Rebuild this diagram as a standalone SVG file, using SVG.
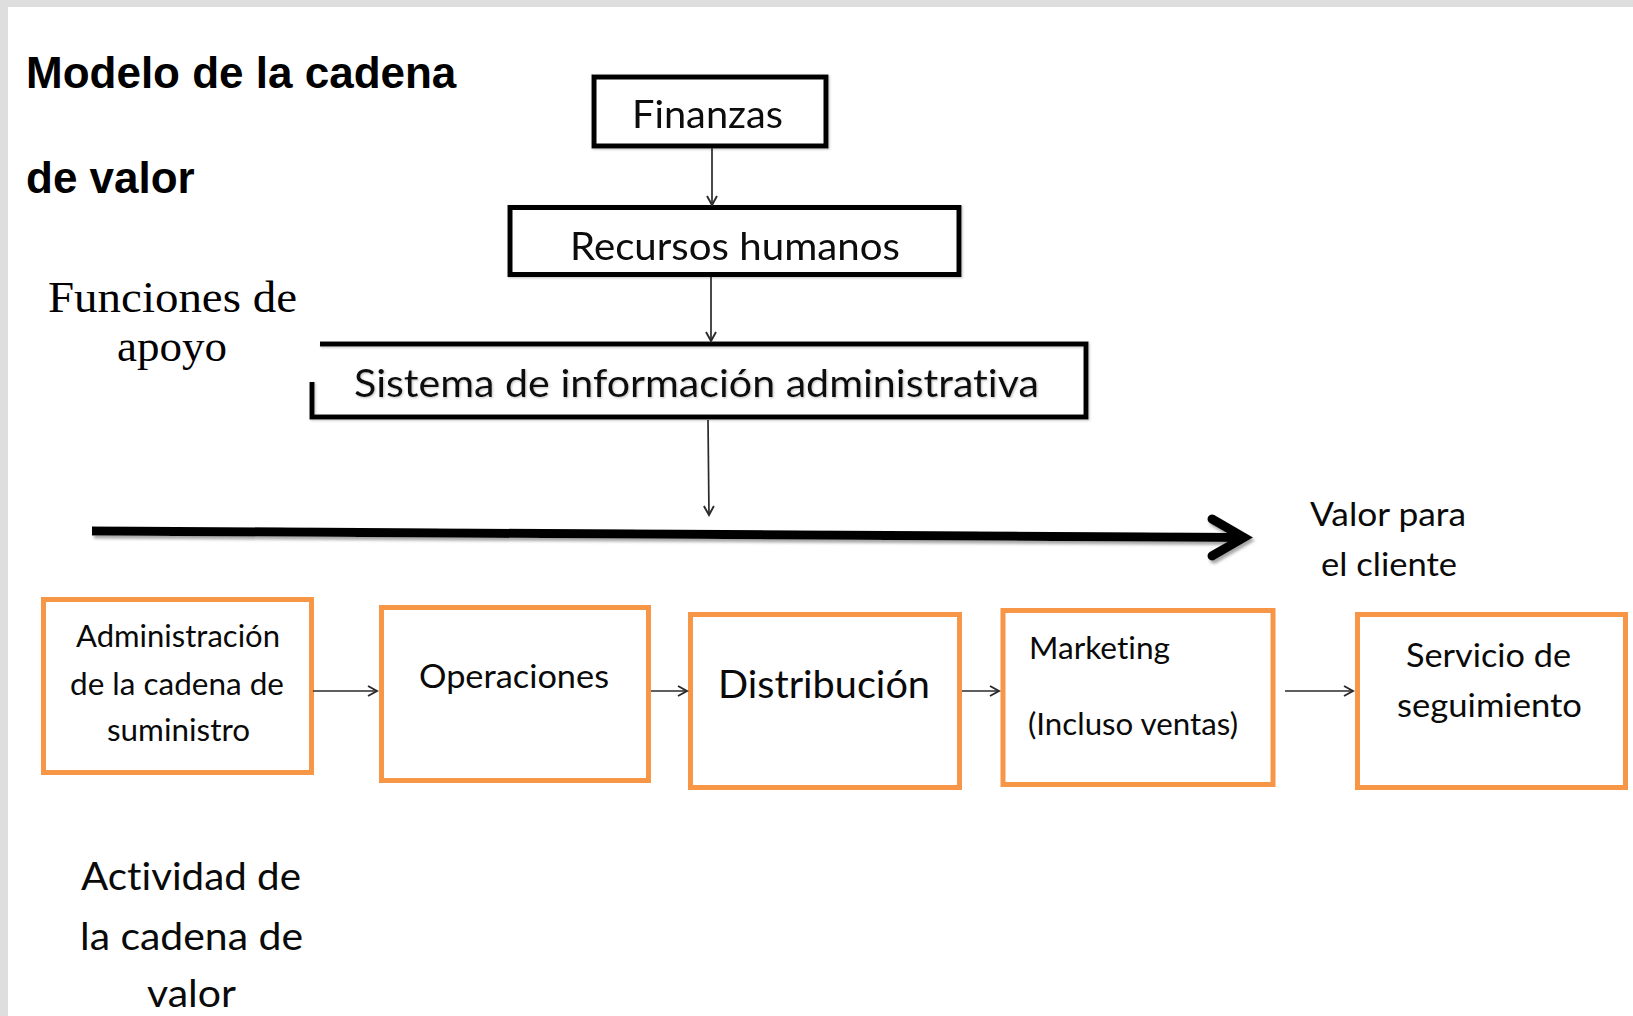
<svg xmlns="http://www.w3.org/2000/svg" width="1633" height="1016" viewBox="0 0 1633 1016">
  <defs>
    <style>
      .title { font-family: "Liberation Sans", Arial, sans-serif; font-weight: bold; font-size: 44px; fill: #000; }
      .serif { font-family: "Liberation Serif", "Times New Roman", serif; font-size: 45px; fill: #000; }
      .cal { font-family: Lato, "Open Sans", sans-serif; fill: #0a0a0a; font-variant-ligatures: none; font-feature-settings: "liga" 0, "clig" 0; }
      .bbox { fill: #fff; stroke: #000; stroke-width: 5; }
      .obox { fill: #fff; stroke: #F79646; stroke-width: 5; }
      .conn { fill: none; stroke: #2a2a2a; stroke-width: 1.7; }
    </style>
    <marker id="arr" markerUnits="userSpaceOnUse" markerWidth="14" markerHeight="14" refX="10" refY="6" orient="auto">
      <path d="M1,1 L10,6 L1,11" fill="none" stroke="#2a2a2a" stroke-width="1.9"/>
    </marker>
    <filter id="shadow" x="-5%" y="-50%" width="110%" height="200%">
      <feDropShadow dx="2" dy="3" stdDeviation="1.5" flood-color="#808080" flood-opacity="0.7"/>
    </filter>
    <filter id="bshadow" x="-5%" y="-10%" width="110%" height="130%">
      <feDropShadow dx="1" dy="1" stdDeviation="1" flood-color="#808080" flood-opacity="0.5"/>
    </filter>
  </defs>

  <!-- background -->
  <rect x="0" y="0" width="1633" height="1016" fill="#ffffff"/>
  <rect x="0" y="0" width="1633" height="7" fill="#dedede"/>
  <rect x="0" y="0" width="8" height="1016" fill="#dedede"/>

  <!-- title and side labels -->
  <g id="title">
    <text class="title" x="26" y="88">Modelo de la cadena</text>
    <text class="title" x="26" y="193">de valor</text>
  </g>
  <g id="label-apoyo">
    <text class="serif" x="172.5" y="312" text-anchor="middle" textLength="249" lengthAdjust="spacingAndGlyphs">Funciones de</text>
    <text class="serif" x="172" y="361" text-anchor="middle">apoyo</text>
  </g>
  <g id="label-valor-cliente">
    <text class="cal" font-size="33.5" x="1310" y="526" textLength="156" lengthAdjust="spacingAndGlyphs">Valor para</text>
    <text class="cal" font-size="33.5" x="1321" y="576" textLength="136" lengthAdjust="spacingAndGlyphs">el cliente</text>
  </g>
  <g id="label-actividad">
    <text class="cal" font-size="39.5" x="81" y="890" textLength="220" lengthAdjust="spacingAndGlyphs">Actividad de</text>
    <text class="cal" font-size="39.5" x="80" y="950" textLength="223" lengthAdjust="spacingAndGlyphs">la cadena de</text>
    <text class="cal" font-size="39.5" x="147" y="1007" textLength="89" lengthAdjust="spacingAndGlyphs">valor</text>
  </g>

  <!-- support function nodes -->
  <g id="finanzas" filter="url(#bshadow)">
    <rect class="bbox" x="594" y="77" width="232" height="69"/>
    <text class="cal" font-size="38.5" x="632" y="128" textLength="151" lengthAdjust="spacingAndGlyphs">Finanzas</text>
  </g>
  <g id="recursos-humanos" filter="url(#bshadow)">
    <rect class="bbox" x="510" y="207.5" width="449" height="67"/>
    <text class="cal" font-size="38.5" x="570" y="260" textLength="330" lengthAdjust="spacingAndGlyphs">Recursos humanos</text>
  </g>
  <g id="sistema-informacion" filter="url(#bshadow)">
    <path d="M320,344 L1086,344 L1086,417 L312,417 L312,382" fill="none" stroke="#000" stroke-width="5"/>
    <text class="cal" font-size="38.5" x="354" y="397" textLength="685" lengthAdjust="spacingAndGlyphs">Sistema de información administrativa</text>
  </g>

  <!-- value chain activity nodes -->
  <g id="admin-cadena">
    <rect class="obox" x="43.5" y="599.5" width="268" height="173"/>
    <text class="cal" font-size="30" x="178" y="647" text-anchor="middle" textLength="204" lengthAdjust="spacingAndGlyphs">Administración</text>
    <text class="cal" font-size="30" x="177" y="695" text-anchor="middle" textLength="214" lengthAdjust="spacingAndGlyphs">de la cadena de</text>
    <text class="cal" font-size="30" x="178.5" y="741" text-anchor="middle" textLength="143" lengthAdjust="spacingAndGlyphs">suministro</text>
  </g>
  <g id="operaciones">
    <rect class="obox" x="381.5" y="607.5" width="267" height="173"/>
    <text class="cal" font-size="33.5" x="419" y="688" textLength="190" lengthAdjust="spacingAndGlyphs">Operaciones</text>
  </g>
  <g id="distribucion">
    <rect class="obox" x="690.5" y="614.5" width="269" height="173"/>
    <text class="cal" font-size="38.5" x="718" y="698" textLength="212" lengthAdjust="spacingAndGlyphs">Distribución</text>
  </g>
  <g id="marketing">
    <rect class="obox" x="1003" y="610.5" width="270" height="174"/>
    <text class="cal" font-size="30" x="1029" y="659" textLength="141" lengthAdjust="spacingAndGlyphs">Marketing</text>
    <text class="cal" font-size="30" x="1028" y="735" textLength="210" lengthAdjust="spacingAndGlyphs">(Incluso ventas)</text>
  </g>
  <g id="servicio-seguimiento">
    <rect class="obox" x="1357.5" y="614.5" width="268" height="173"/>
    <text class="cal" font-size="33.5" x="1406" y="667" textLength="165" lengthAdjust="spacingAndGlyphs">Servicio de</text>
    <text class="cal" font-size="33.5" x="1397" y="717" textLength="185" lengthAdjust="spacingAndGlyphs">seguimiento</text>
  </g>

  <!-- connectors -->
  <g id="connectors">
    <line class="conn" x1="712" y1="148" x2="712" y2="205" marker-end="url(#arr)"/>
    <line class="conn" x1="711" y1="277" x2="711" y2="341" marker-end="url(#arr)"/>
    <line class="conn" x1="708" y1="420" x2="709" y2="515" marker-end="url(#arr)"/>
    <line class="conn" x1="313" y1="691" x2="377" y2="691" marker-end="url(#arr)"/>
    <line class="conn" x1="651" y1="691" x2="687" y2="691" marker-end="url(#arr)"/>
    <line class="conn" x1="962" y1="691" x2="999" y2="691" marker-end="url(#arr)"/>
    <line class="conn" x1="1285" y1="691" x2="1353" y2="691" marker-end="url(#arr)"/>
    <g id="value-arrow" filter="url(#shadow)">
      <line x1="92" y1="531" x2="1240" y2="537.5" stroke="#000" stroke-width="9"/>
      <path d="M1212,519 L1244,537.5 L1212,556" fill="none" stroke="#000" stroke-width="9" stroke-linecap="round" stroke-linejoin="miter"/>
    </g>
  </g>
</svg>
